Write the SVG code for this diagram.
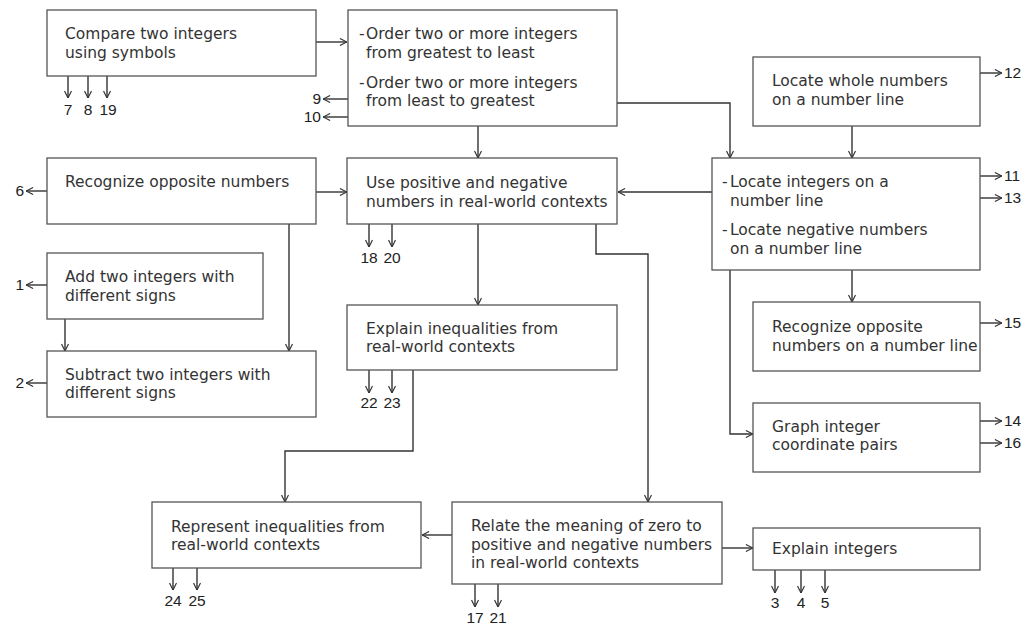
<svg xmlns="http://www.w3.org/2000/svg" width="1027" height="626" viewBox="0 0 1027 626">
<style>
.box{fill:#fff;stroke:#555;stroke-width:1.3}
.t{font-family:"DejaVu Sans",sans-serif;font-size:15.5px;fill:#333}
.n{font-family:"Liberation Sans",Arial,sans-serif;font-size:15.5px;fill:#222}
.c{fill:none;stroke:#333;stroke-width:1.4}
</style>
<defs>
<marker id="ah" viewBox="0 0 8 8" refX="7.6" refY="4" markerWidth="8" markerHeight="8" markerUnits="userSpaceOnUse" orient="auto">
<path d="M0.5,0.5 L7.5,4 L0.5,7.5" fill="none" stroke="#333" stroke-width="1.2"/>
</marker>
</defs>
<rect width="1027" height="626" fill="#fff"/>
<g id="connectors" class="c" marker-end="url(#ah)">
<path d="M316,42 H347"/>
<path d="M68,76 V98"/><path d="M88,76 V98"/><path d="M107,76 V98"/>
<path d="M348,99 H323"/><path d="M348,117 H323"/>
<path d="M478,126 V158"/>
<path d="M617,103 H730 V158"/>
<path d="M980,73 H1002"/>
<path d="M852,126 V158"/>
<path d="M980,176 H1002"/><path d="M980,198 H1002"/>
<path d="M712,192 H618"/>
<path d="M316,192 H347"/>
<path d="M47,191 H26"/>
<path d="M289,224 V351"/>
<path d="M47,285 H26"/>
<path d="M65,319 V351"/>
<path d="M47,383 H26"/>
<path d="M369,224 V247"/><path d="M392,224 V247"/>
<path d="M478,224 V305"/>
<path d="M596,224 V254 H648 V502"/>
<path d="M369,370 V393"/><path d="M392,370 V393"/>
<path d="M413,370 V451 H285 V502"/>
<path d="M852,270 V302"/>
<path d="M730,270 V434 H753"/>
<path d="M980,323 H1002"/>
<path d="M980,421 H1002"/><path d="M980,443 H1002"/>
<path d="M173,568 V590"/><path d="M197,568 V590"/>
<path d="M452,535 H422"/>
<path d="M475,584 V607"/><path d="M498,584 V607"/>
<path d="M722,548 H753"/>
<path d="M775,570 V593"/><path d="M801,570 V593"/><path d="M825,570 V593"/>
</g>
<g id="labels">
<text class="n" x="68" y="115" text-anchor="middle">7</text>
<text class="n" x="88" y="115" text-anchor="middle">8</text>
<text class="n" x="108" y="115" text-anchor="middle">19</text>
<text class="n" x="321" y="104" text-anchor="end">9</text>
<text class="n" x="321" y="122" text-anchor="end">10</text>
<text class="n" x="1004" y="78">12</text>
<text class="n" x="1004" y="181">11</text>
<text class="n" x="1004" y="203">13</text>
<text class="n" x="24" y="196" text-anchor="end">6</text>
<text class="n" x="24" y="290" text-anchor="end">1</text>
<text class="n" x="24" y="388" text-anchor="end">2</text>
<text class="n" x="369" y="263" text-anchor="middle">18</text>
<text class="n" x="392" y="263" text-anchor="middle">20</text>
<text class="n" x="369" y="408" text-anchor="middle">22</text>
<text class="n" x="392" y="408" text-anchor="middle">23</text>
<text class="n" x="1004" y="328">15</text>
<text class="n" x="1004" y="426">14</text>
<text class="n" x="1004" y="448">16</text>
<text class="n" x="173" y="606" text-anchor="middle">24</text>
<text class="n" x="197" y="606" text-anchor="middle">25</text>
<text class="n" x="475" y="623" text-anchor="middle">17</text>
<text class="n" x="498" y="623" text-anchor="middle">21</text>
<text class="n" x="775" y="608" text-anchor="middle">3</text>
<text class="n" x="801" y="608" text-anchor="middle">4</text>
<text class="n" x="825" y="608" text-anchor="middle">5</text>
</g>
<g id="compare">
<rect class="box" x="47" y="10" width="269" height="66"/>
<text class="t" x="65" y="39">Compare two integers</text>
<text class="t" x="65" y="58">using symbols</text>
</g>
<g id="order">
<rect class="box" x="348" y="10" width="269" height="116"/>
<text class="t" x="359" y="39">-</text><text class="t" x="366" y="39">Order two or more integers</text>
<text class="t" x="366" y="58">from greatest to least</text>
<text class="t" x="359" y="88">-</text><text class="t" x="366" y="88">Order two or more integers</text>
<text class="t" x="366" y="106">from least to greatest</text>
</g>
<g id="locate-whole">
<rect class="box" x="753" y="57" width="227" height="69"/>
<text class="t" x="772" y="86">Locate whole numbers</text>
<text class="t" x="772" y="105">on a number line</text>
</g>
<g id="locate-integers">
<rect class="box" x="712" y="158" width="268" height="112"/>
<text class="t" x="722" y="187">-</text><text class="t" x="730" y="187">Locate integers on a</text>
<text class="t" x="730" y="206">number line</text>
<text class="t" x="722" y="235">-</text><text class="t" x="730" y="235">Locate negative numbers</text>
<text class="t" x="730" y="254">on a number line</text>
</g>
<g id="use-positive">
<rect class="box" x="347" y="158" width="270" height="66"/>
<text class="t" x="366" y="188">Use positive and negative</text>
<text class="t" x="366" y="207">numbers in real-world contexts</text>
</g>
<g id="recognize-opposite">
<rect class="box" x="47" y="158" width="269" height="66"/>
<text class="t" x="65" y="187">Recognize opposite numbers</text>
</g>
<g id="add">
<rect class="box" x="47" y="253" width="216" height="66"/>
<text class="t" x="65" y="282">Add two integers with</text>
<text class="t" x="65" y="301">different signs</text>
</g>
<g id="subtract">
<rect class="box" x="47" y="351" width="269" height="66"/>
<text class="t" x="65" y="380">Subtract two integers with</text>
<text class="t" x="65" y="398">different signs</text>
</g>
<g id="explain-inequalities">
<rect class="box" x="347" y="305" width="270" height="65"/>
<text class="t" x="366" y="334">Explain inequalities from</text>
<text class="t" x="366" y="352">real-world contexts</text>
</g>
<g id="recognize-opposite-line">
<rect class="box" x="753" y="302" width="227" height="69"/>
<text class="t" x="772" y="332">Recognize opposite</text>
<text class="t" x="772" y="351">numbers on a number line</text>
</g>
<g id="graph">
<rect class="box" x="753" y="403" width="227" height="69"/>
<text class="t" x="772" y="432">Graph integer</text>
<text class="t" x="772" y="450">coordinate pairs</text>
</g>
<g id="represent">
<rect class="box" x="152" y="502" width="269" height="66"/>
<text class="t" x="171" y="532">Represent inequalities from</text>
<text class="t" x="171" y="550">real-world contexts</text>
</g>
<g id="relate">
<rect class="box" x="452" y="502" width="270" height="82"/>
<text class="t" x="471" y="531">Relate the meaning of zero to</text>
<text class="t" x="471" y="550">positive and negative numbers</text>
<text class="t" x="471" y="568">in real-world contexts</text>
</g>
<g id="explain-integers">
<rect class="box" x="753" y="528" width="227" height="42"/>
<text class="t" x="772" y="554">Explain integers</text>
</g>
</svg>
